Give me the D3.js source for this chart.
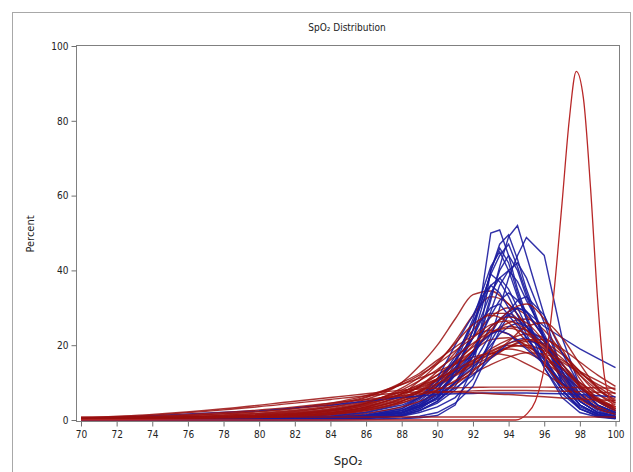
<!DOCTYPE html>
<html>
<head>
<meta charset="utf-8">
<script src="https://cdn.jsdelivr.net/npm/d3@7"></script>
<style>
  body { margin: 0; background: #fff; }
  svg { display: block; font-family: "DejaVu Sans Condensed", "Liberation Sans Narrow", "DejaVu Sans", sans-serif; }
</style>
</head>
<body>
<div id="chart"></div>
<script>
// SpO2 grid for the blue (polyline) series
const blueX = [70, 80, 84, 86, 88, 89, 90, 91, 92, 92.5, 93, 93.5, 94, 94.5, 95, 96, 97, 98, 99, 100];
const blueCurves = [
  [0, 0.1, 0.3, 0.6, 1.5, 3, 6, 12, 24, 34, 50, 50.8, 44, 35, 28, 16, 8, 3, 1.2, 0.5],
  [0, 0.1, 0.2, 0.5, 1.2, 2.5, 5, 9, 17, 24, 32, 41, 49, 52, 44, 28, 13, 5, 2, 1],
  [0, 0.1, 0.2, 0.4, 1, 2, 3.5, 6, 11, 16, 22, 30, 38, 44, 48.8, 44, 22, 9, 4, 2],
  [0, 0.1, 0.3, 0.6, 1.8, 3.5, 7, 13, 22, 30, 40, 47, 49.5, 43, 35, 22, 10, 4, 1.5, 0.6],
  [0, 0.1, 0.3, 0.7, 2, 4, 8, 15, 26, 32, 39, 44, 47, 41, 34, 21, 10, 4, 1.5, 0.5],
  [0, 0.2, 0.5, 1, 2.5, 5, 9, 16, 27, 34, 41, 45, 40, 33, 27, 17, 8, 3, 1, 0.5],
  [0, 0.1, 0.2, 0.5, 1.2, 2.5, 5, 10, 18, 25, 33, 40, 44, 40, 33, 22, 11, 4, 1.5, 0.5],
  [0, 0.1, 0.3, 0.8, 2, 3.5, 6, 10, 17, 23, 29, 36, 40, 42, 38, 26, 13, 5, 2, 1],
  [0, 0.2, 0.5, 1, 2.5, 4.5, 8, 14, 22, 28, 34, 38, 40, 37, 32, 23, 13, 6, 2.5, 1],
  [0, 0.2, 0.6, 1.2, 3, 5.5, 10, 17, 26, 31, 36, 38, 35, 30, 25, 17, 9, 4, 1.5, 0.5],
  [0, 0.2, 0.5, 1, 2, 3.5, 6, 10, 15, 19, 23, 27, 29, 30, 29, 25, 22, 19, 16.5, 14],
  [0, 0.2, 0.6, 1.3, 3, 6, 11, 20, 28, 33, 36, 34, 30, 26, 22, 15, 8, 3.5, 1.5, 0.5],
  [0, 0.1, 0.3, 0.8, 2, 4, 7, 12, 18, 23, 28, 32, 34, 32, 29, 22, 14, 7, 3, 1.5],
  [0, 0.1, 0.2, 0.5, 1.2, 2.5, 4.5, 8, 13, 17, 21, 25, 29, 32, 33, 28, 18, 9, 4, 2],
  [0, 0.3, 0.8, 1.5, 3.5, 6, 10, 16, 22, 27, 30, 31, 28, 25, 22, 16, 10, 5, 2, 1],
  [0, 0.2, 0.6, 1.2, 2.5, 4.5, 7.5, 12, 17, 21, 25, 27, 28, 27, 25, 20, 13, 7, 3, 1.5],
  [0, 0.2, 0.5, 1.1, 2.5, 4, 6.5, 10, 14, 17, 20, 23, 25, 26, 25, 21, 15, 9, 5, 2.5],
  [0, 0.3, 1, 2, 4, 6, 9, 13, 18, 21, 23, 24, 23, 21, 19, 15, 10, 6, 3, 1.5],
  [0, 0.2, 0.5, 1, 2, 3.5, 5.5, 8.5, 12, 14, 16.5, 18.5, 20.5, 21.5, 22, 19, 14, 8, 4, 2],
  [0.3, 2.5, 4, 5, 6, 6.4, 6.8, 7, 7.1, 7.2, 7.2, 7.2, 7.2, 7.2, 7.2, 7.1, 7, 6.8, 6.5, 6.2],
  [0, 0, 0, 0.1, 0.3, 0.6, 1.2, 4, 14, 26, 40, 46, 42, 34, 27, 14, 6, 2, 0.8, 0.3],
  [0, 0, 0.1, 0.2, 0.5, 1, 2, 4.5, 9, 14, 19, 24, 28, 30, 29, 22, 12, 5, 2, 0.8],
  [0, 0.1, 0.3, 0.6, 1.5, 3, 6, 13, 24, 32, 39, 37, 33, 28, 23, 14, 7, 3, 1, 0.4]
];

// SpO2 grid for the red (smoothed) series
const redX = [70, 74, 78, 82, 84, 86, 88, 89, 90, 91, 92, 93, 94, 95, 96, 97, 98, 99, 100];
const redCurves = [
  [0.2, 0.5, 1, 2.2, 3.5, 5.5, 10, 14.5, 20, 27, 33.5, 34.5, 31, 25, 18, 11.5, 6.5, 3.5, 1.8],
  [0.1, 0.2, 0.4, 1, 1.8, 3.5, 7, 10.5, 15, 21, 28, 33, 31, 25, 18, 11, 6, 3, 1.5],
  [0.1, 0.2, 0.4, 0.8, 1.4, 2.5, 5, 7.5, 11, 16, 22, 27.5, 30, 28, 22, 15, 9, 5, 2.5],
  [0.2, 0.4, 0.7, 1.3, 2, 3.5, 6.5, 9, 13, 18, 24, 28.5, 28.5, 24, 18, 12, 7, 4, 2],
  [0.1, 0.3, 0.5, 1, 1.6, 3, 5.5, 7.5, 10.5, 14, 18.5, 23, 26, 27, 24, 18, 12, 7, 4],
  [0.2, 0.4, 0.8, 1.5, 2.3, 4, 7, 9, 12, 15.5, 19.5, 23, 25, 24, 20, 15, 10, 6, 3.5],
  [0.3, 0.7, 1.3, 2.6, 3.8, 6, 10, 12.5, 16, 19.5, 22.5, 24, 23, 19.5, 15, 10, 6, 3.5, 2],
  [0.1, 0.2, 0.4, 0.9, 1.5, 2.8, 5, 6.8, 9, 12, 15.5, 19, 21.5, 23, 22, 18, 13, 8.5, 5],
  [0.2, 0.4, 0.8, 1.6, 2.6, 4.5, 7.5, 9.5, 12, 15, 18.5, 21.5, 22, 20, 16.5, 12.5, 8.5, 5.5, 3],
  [0.1, 0.3, 0.6, 1.2, 2, 3.4, 5.8, 7.4, 9.4, 11.8, 14.5, 17, 19.5, 21, 20.5, 17.5, 13, 9, 6],
  [0.3, 0.6, 1.2, 2.4, 3.4, 5, 7.6, 9.2, 11, 13.2, 15.8, 18.2, 20, 19.5, 17, 13.5, 10, 7, 4.5],
  [0.2, 0.5, 0.9, 1.8, 2.8, 4.4, 7, 8.6, 10.5, 12.8, 15.2, 17.8, 19, 18, 15.5, 12, 8.5, 5.5, 3.5],
  [0.1, 0.3, 0.6, 1.2, 1.9, 3.2, 5.2, 6.6, 8.2, 10.2, 12.4, 14.8, 16.8, 18, 17.6, 15.5, 12.5, 9.5, 7],
  [0.4, 0.9, 1.7, 3.2, 4.5, 6.5, 9.5, 11.2, 13, 15, 16.8, 17.8, 17.2, 15, 12.5, 9.5, 7, 5, 3.5],
  [0, 0.1, 0.2, 0.5, 0.9, 1.8, 3.5, 5, 7, 9.5, 13, 17, 21, 25, 26, 22, 15, 8.5, 4.5],
  [0.1, 0.2, 0.3, 0.7, 1.2, 2.2, 4.5, 6.5, 9.5, 13.5, 18.5, 24, 29, 31, 27, 19, 11, 5.5, 2.5],
  [0.1, 0.2, 0.4, 0.9, 1.5, 2.6, 4.6, 6, 8, 10.5, 13.5, 16.5, 19.5, 21.5, 21.5, 19, 15.5, 12, 9],
  [0.2, 0.4, 0.8, 1.6, 2.4, 3.8, 6.2, 7.8, 9.8, 12.2, 15, 17.6, 19.5, 20, 18.5, 16, 13, 10.5, 8],
  [0.1, 0.3, 0.7, 1.5, 2.5, 4.5, 8.5, 11.5, 15.5, 20.5, 25.5, 28, 26, 21, 15, 9.5, 5.5, 3, 1.5],
  [0.6, 1.5, 3, 5, 6, 7, 8, 8.3, 8.5, 8.6, 8.7, 8.8, 8.8, 8.8, 8.8, 8.7, 8.7, 8.6, 8.5],
  [0.4, 1, 2, 3.5, 4.5, 5.5, 6.5, 7, 7.4, 7.6, 7.8, 7.9, 7.9, 7.9, 7.8, 7.7, 7.6, 7.4, 7.2],
  [0.5, 1.3, 2.7, 4.5, 5.5, 6.5, 7.3, 7.5, 7.6, 7.5, 7.3, 7, 6.8, 6.5, 6.2, 5.9, 5.6, 5.4, 5.2],
  [0.8, 0.8, 0.8, 0.8, 0.8, 0.8, 0.8, 0.8, 0.8, 0.8, 0.8, 0.8, 0.8, 0.8, 0.8, 0.8, 0.8, 0.8, 0.8],
  [0.2, 0.5, 1, 2, 3, 4.8, 8, 10.5, 13.5, 17, 20.5, 23.5, 24.5, 23, 19, 14, 9, 5.5, 3],
  [0.1, 0.2, 0.5, 1, 1.7, 3, 5.8, 8, 11, 15, 20, 25, 27.5, 26, 21, 15, 9.5, 5.5, 3],
  [0.2, 0.4, 0.8, 1.7, 2.6, 4.2, 7, 8.8, 11, 13.5, 16, 18.5, 20.5, 21.5, 20, 16.5, 12, 8, 5.5],
  [0.3, 0.8, 1.6, 3, 4.2, 6.2, 9.5, 12, 15, 18.5, 22, 25.5, 26.5, 24, 19.5, 14, 9, 5, 2.5]
];

// the one narrow high-saturation subject
const spikeX = [70, 90, 94.4, 95, 95.5, 96, 96.5, 97, 97.4, 97.8, 98.2, 98.6, 99, 99.4, 100];
const spikeValues = [0, 0, 0, 1.5, 5, 14, 32, 58, 80, 93.2, 86, 62, 32, 11, 3];

const xTicks = d3.range(70, 101, 2);
const yTicks = [0, 20, 40, 60, 80, 100];

const width = 633, height = 472;
const frame = { left: 76, right: 619, top: 45, bottom: 421 };

const svg = d3.select("#chart").append("svg")
    .attr("width", width)
    .attr("height", height);

// outer border
svg.append("rect")
    .attr("x", 12.5).attr("y", 12.5)
    .attr("width", 618).attr("height", 470)
    .style("fill", "none")
    .style("stroke", "#a8a8a8");

const x = d3.scaleLinear().domain([70, 100]).range([81, 615.5]);
const y = d3.scaleLinear().domain([0, 100]).range([420, 46]);

// clip to the plot frame
svg.append("defs").append("clipPath").attr("id", "plotClip")
    .append("rect")
    .attr("x", frame.left).attr("y", frame.top)
    .attr("width", frame.right - frame.left).attr("height", frame.bottom - frame.top);

const blueLine = d3.line()
    .x((d, i) => x(blueX[i]))
    .y(d => y(d))
    .curve(d3.curveLinear);

const redLine = d3.line()
    .x((d, i) => x(redX[i]))
    .y(d => y(d))
    .curve(d3.curveMonotoneX);

const spikeLine = d3.line()
    .x((d, i) => x(spikeX[i]))
    .y(d => y(d))
    .curve(d3.curveMonotoneX);

const lines = svg.append("g").attr("clip-path", "url(#plotClip)");

// interleave subjects so neither colour sits fully on top
const n = Math.max(blueCurves.length, redCurves.length);
for (let i = 0; i < n; i++) {
    if (blueCurves[i]) {
        lines.append("path")
            .attr("d", blueLine(blueCurves[i]))
            .style("fill", "none")
            .style("stroke", "#1b1b9e")
            .style("stroke-width", 1.4)
            .style("stroke-opacity", 0.9);
    }
    if (redCurves[i]) {
        lines.append("path")
            .attr("d", redLine(redCurves[i]))
            .style("fill", "none")
            .style("stroke", "#9a0f0f")
            .style("stroke-width", 1.4)
            .style("stroke-opacity", 0.85);
    }
}

lines.append("path")
    .attr("d", spikeLine(spikeValues))
    .style("fill", "none")
    .style("stroke", "#b82828")
    .style("stroke-width", 1.3);

// plot frame
svg.append("rect")
    .attr("x", frame.left + 0.5).attr("y", frame.top + 0.5)
    .attr("width", frame.right - frame.left).attr("height", frame.bottom - frame.top)
    .style("fill", "none")
    .style("stroke", "#808080");

// axes
const yAxis = svg.append("g")
    .attr("transform", `translate(${frame.left + 0.5},0)`)
    .call(d3.axisLeft(y).tickValues(yTicks).tickSize(5).tickPadding(3));

const xAxis = svg.append("g")
    .attr("transform", `translate(0,${frame.bottom + 0.5})`)
    .call(d3.axisBottom(x).tickValues(xTicks).tickSize(5).tickPadding(4));

[xAxis, yAxis].forEach(a => {
    a.select(".domain").remove();
    a.selectAll(".tick line").style("stroke", "#707070");
    a.selectAll(".tick text")
        .style("font-size", "10px")
        .style("font-family", "'DejaVu Sans Condensed', 'Liberation Sans Narrow', sans-serif")
        .style("fill", "#222");
});

// titles
svg.append("text")
    .attr("x", 347).attr("y", 31)
    .attr("text-anchor", "middle")
    .style("font-size", "10px")
    .style("fill", "#222")
    .text("SpO₂ Distribution");

svg.append("text")
    .attr("x", 348).attr("y", 465)
    .attr("text-anchor", "middle")
    .style("font-size", "13px")
    .style("fill", "#222")
    .text("SpO₂");

svg.append("text")
    .attr("transform", "translate(34,234) rotate(-90)")
    .attr("text-anchor", "middle")
    .style("font-size", "11px")
    .style("fill", "#222")
    .text("Percent");
</script>
</body>
</html>
